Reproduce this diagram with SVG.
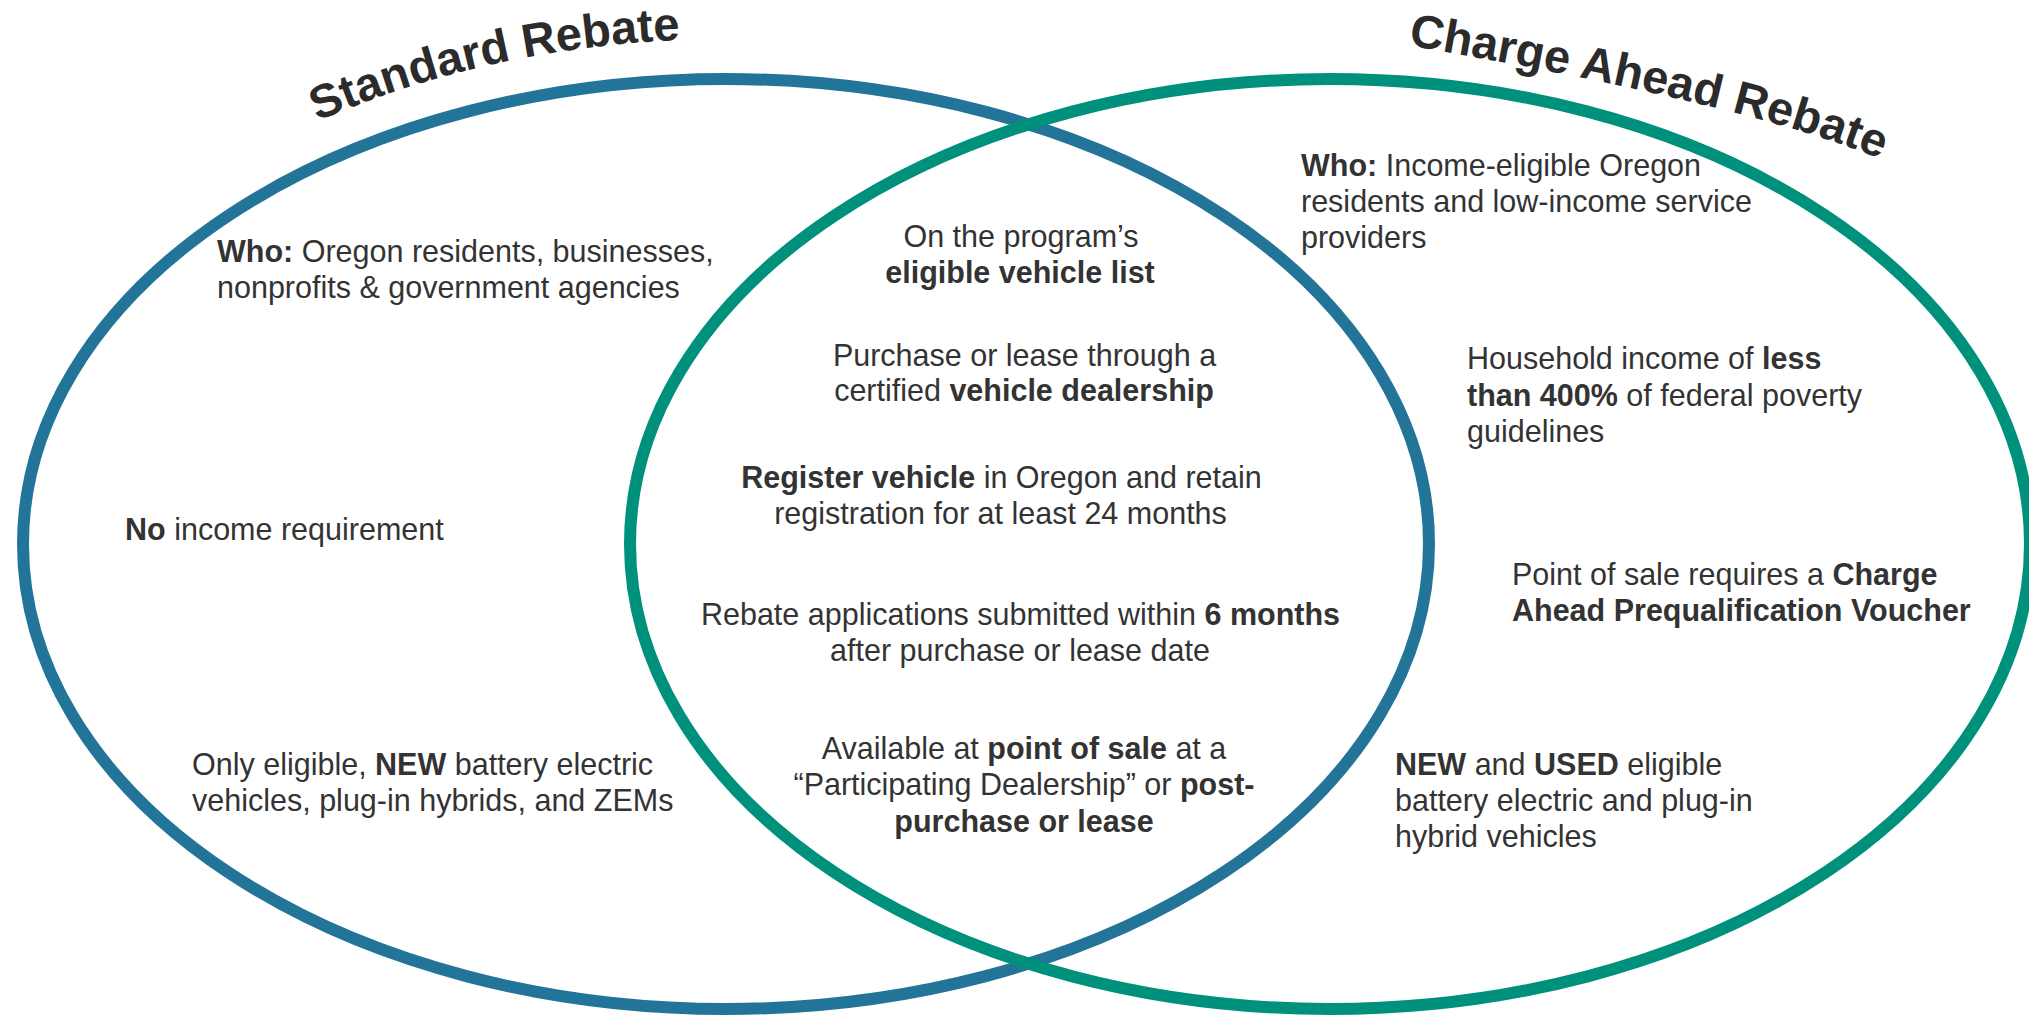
<svg xmlns="http://www.w3.org/2000/svg" width="2029" height="1016" viewBox="0 0 2029 1016">
  <defs>
    <style>
      .ring { fill: none; stroke-width: 12; }
      .blue { stroke: #237499; }
      .teal { stroke: #00917C; }
      .t { font-family: "Liberation Sans", Arial, sans-serif; font-size: 30.5px; fill: #333333; }
      .c { text-anchor: middle; }
      .b { font-weight: bold; }
      .title { font-family: "Liberation Sans", Arial, sans-serif; font-size: 47px; font-weight: bold; fill: #2b2b2b; }
    </style>
    <path id="arcL" d="M -27 554 A 753 515 0 0 1 1479 554"/>
    <path id="arcR" d="M 1400 44 Q 1774.5 108 1900 168 L 1960 198"/>
  </defs>
  <rect width="2029" height="1016" fill="#ffffff"/>

  <g id="standard-rebate">
    <ellipse class="ring blue" cx="726" cy="544" rx="703" ry="465"/>
    <text class="title"><textPath href="#arcL" startOffset="585">Standard Rebate</textPath></text>
  </g>

  <g id="charge-ahead-rebate">
    <ellipse class="ring teal" cx="1330" cy="544" rx="700" ry="465"/>
    <text class="title"><textPath href="#arcR" startOffset="8">Charge Ahead Rebate</textPath></text>
  </g>

  <g id="connectors"></g>

  <g id="std-who">
    <text class="t" x="217" y="262"><tspan class="b">Who:</tspan> Oregon residents, businesses,</text>
    <text class="t" x="217" y="298">nonprofits &amp; government agencies</text>
  </g>
  <g id="std-income">
    <text class="t" x="125" y="540"><tspan class="b">No</tspan> income requirement</text>
  </g>
  <g id="std-vehicles">
    <text class="t" x="192" y="775">Only eligible, <tspan class="b">NEW</tspan> battery electric</text>
    <text class="t" x="192" y="811">vehicles, plug-in hybrids, and ZEMs</text>
  </g>

  <g id="both-list">
    <text class="t c" x="1021" y="246.5">On the program’s</text>
    <text class="t c b" x="1020" y="282.5">eligible vehicle list</text>
  </g>
  <g id="both-dealer">
    <text class="t c" x="1024.5" y="365.5">Purchase or lease through a</text>
    <text class="t c" x="1024" y="401">certified <tspan class="b">vehicle dealership</tspan></text>
  </g>
  <g id="both-register">
    <text class="t c" x="1001.5" y="488"><tspan class="b">Register vehicle</tspan> in Oregon and retain</text>
    <text class="t c" x="1000.5" y="523.5">registration for at least 24 months</text>
  </g>
  <g id="both-apply">
    <text class="t c" x="1020.5" y="624.5">Rebate applications submitted within <tspan class="b">6 months</tspan></text>
    <text class="t c" x="1020" y="660.5">after purchase or lease date</text>
  </g>
  <g id="both-available">
    <text class="t c" x="1024" y="758.5">Available at <tspan class="b">point of sale</tspan> at a</text>
    <text class="t c" x="1024" y="795">“Participating Dealership” or <tspan class="b">post-</tspan></text>
    <text class="t c b" x="1024" y="831.5">purchase or lease</text>
  </g>

  <g id="ca-who">
    <text class="t" x="1301" y="176"><tspan class="b">Who:</tspan> Income-eligible Oregon</text>
    <text class="t" x="1301" y="212">residents and low-income service</text>
    <text class="t" x="1301" y="248">providers</text>
  </g>
  <g id="ca-income">
    <text class="t" x="1467" y="369">Household income of <tspan class="b">less</tspan></text>
    <text class="t" x="1467" y="406"><tspan class="b">than 400%</tspan> of federal poverty</text>
    <text class="t" x="1467" y="442">guidelines</text>
  </g>
  <g id="ca-voucher">
    <text class="t" x="1512" y="585">Point of sale requires a <tspan class="b">Charge</tspan></text>
    <text class="t b" x="1512" y="621">Ahead Prequalification Voucher</text>
  </g>
  <g id="ca-vehicles">
    <text class="t" x="1395" y="775"><tspan class="b">NEW</tspan> and <tspan class="b">USED</tspan> eligible</text>
    <text class="t" x="1395" y="811">battery electric and plug-in</text>
    <text class="t" x="1395" y="847">hybrid vehicles</text>
  </g>
</svg>
